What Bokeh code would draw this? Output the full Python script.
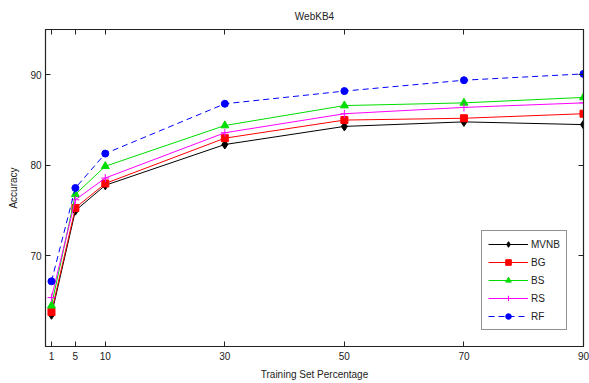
from bokeh.plotting import figure
from bokeh.models import Legend, LegendItem, LinearAxis, FixedTicker, Range1d, Title, CustomJSTickFormatter
from bokeh.embed import file_html
from bokeh.resources import INLINE

x_pct = [1, 5, 10, 30, 50, 70, 90]
mvnb = [63.5, 75.0, 77.8, 82.3, 84.3, 84.8, 84.5]
bg = [63.8, 75.3, 78.0, 83.0, 85.0, 85.2, 85.7]
bs = [64.5, 76.8, 79.9, 84.4, 86.6, 86.9, 87.5]
rs = [65.4, 76.2, 78.6, 83.6, 85.7, 86.4, 86.9]
rf = [67.2, 77.5, 81.3, 86.8, 88.2, 89.4, 90.1]
y_ticks = [70, 80, 90]
title_text = "WebKB4"
x_label = "Training Set Percentage"
y_label = "Accuracy"

FONT = "Liberation Sans"

p = figure(width=589, height=383, output_backend="svg", toolbar_location=None,
           x_range=Range1d(0, 90), y_range=Range1d(60, 95),
           min_border_left=45, min_border_right=6, min_border_top=29, min_border_bottom=37)
p.title = Title(text=title_text, align="center", text_font=FONT, text_font_size="10px",
                text_font_style="normal", text_color="#222222", offset=0)
p.title.standoff = 15
p.grid.visible = False
p.outline_line_color = "#222222"
p.outline_line_width = 1.2
p.background_fill_color = "white"
p.border_fill_color = "white"

for ax in p.xaxis:
    ax.ticker = FixedTicker(ticks=x_pct)
for ax in p.yaxis:
    ax.ticker = FixedTicker(ticks=y_ticks)
for ax in p.xaxis + p.yaxis:
    ax.major_tick_in = 5
    ax.major_tick_out = 0
    ax.minor_tick_line_color = None
    ax.axis_line_color = "#222222"
    ax.major_tick_line_color = "#222222"
    ax.major_label_text_font = FONT
    ax.major_label_text_font_size = "10px"
    ax.major_label_text_color = "#222222"
    ax.axis_label_text_font = FONT
    ax.axis_label_text_font_size = "10px"
    ax.axis_label_text_font_style = "normal"
    ax.axis_label_text_color = "#222222"
p.xaxis.axis_label = x_label
p.yaxis.axis_label = y_label
p.xaxis.axis_label_standoff = 6
p.yaxis.axis_label_standoff = 8
p.xaxis.major_label_standoff = 5
p.yaxis.major_label_standoff = 4

top = LinearAxis(ticker=FixedTicker(ticks=x_pct), major_tick_in=5, major_tick_out=0,
                 minor_tick_line_color=None, formatter=CustomJSTickFormatter(code="return ''"),
                 major_label_standoff=0,
                 axis_line_color="#222222", major_tick_line_color="#222222")
right = LinearAxis(ticker=FixedTicker(ticks=y_ticks), major_tick_in=5, major_tick_out=0,
                   minor_tick_line_color=None, formatter=CustomJSTickFormatter(code="return ''"),
                   major_label_standoff=0,
                   axis_line_color="#222222", major_tick_line_color="#222222")
p.add_layout(top, "above")
p.add_layout(right, "right")

items = []
series = [
    ("MVNB", mvnb, "black", "diamond", "solid", 9),
    ("BG", bg, "red", "square", "solid", 7),
    ("BS", bs, "#00dd00", "triangle", "solid", 8),
    ("RS", rs, "magenta", "cross", "solid", 8),
    ("RF", rf, "blue", "circle", "6 4", 7),
]
for name, vals, col, mk, dash, sz in series:
    ln = p.line(x_pct, vals, line_color=col, line_width=1, line_dash=dash)
    sc = p.scatter(x_pct, vals, marker=mk, size=sz, fill_color=col, line_color=col, line_width=1)
    items.append(LegendItem(label=name, renderers=[ln, sc]))

leg = Legend(items=items, location=(436, 16), label_text_font=FONT, label_text_font_size="10px",
             label_text_color="#222222", border_line_color="#222222", border_line_width=1,
             glyph_width=40, glyph_height=14, label_height=14, spacing=4, padding=6,
             label_standoff=3, margin=0, background_fill_alpha=1)
p.add_layout(leg, "center")

open("out.html", "w").write(file_html(p, INLINE))
